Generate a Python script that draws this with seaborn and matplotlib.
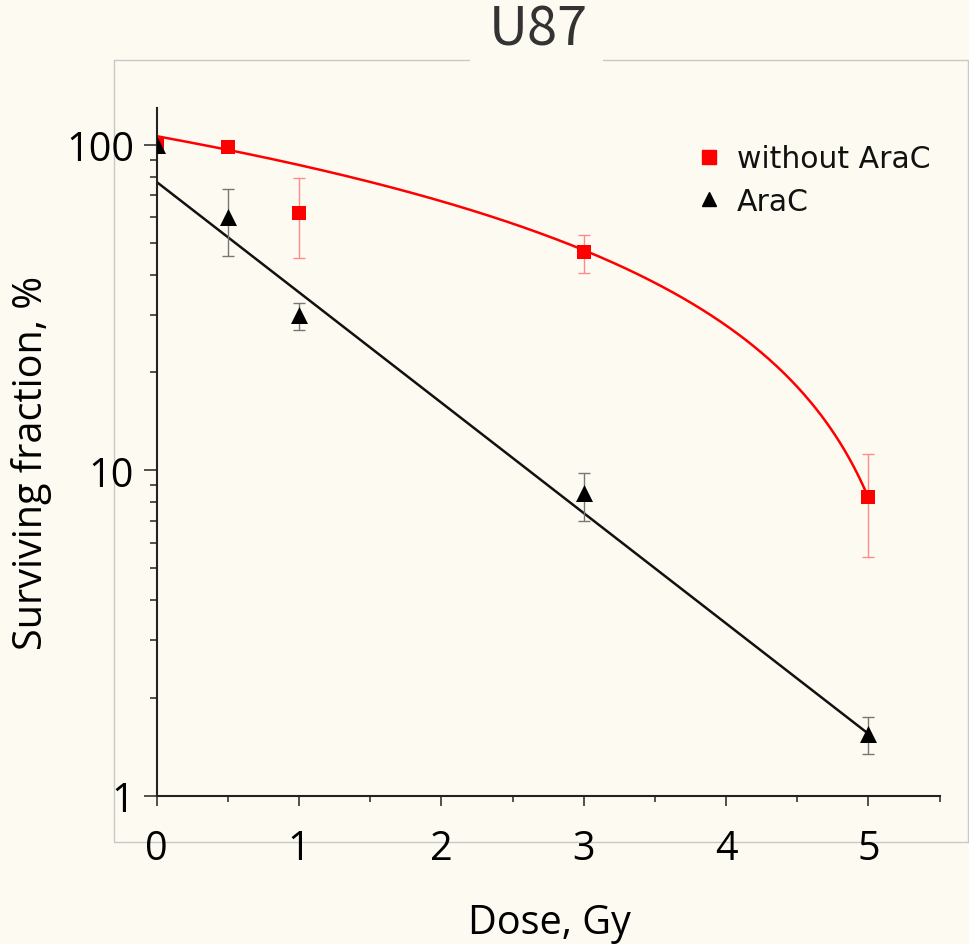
import numpy as np
import pandas as pd
import matplotlib
matplotlib.use("Agg")
import matplotlib.pyplot as plt
import seaborn as sns
from matplotlib.lines import Line2D
from matplotlib.ticker import FixedLocator, FixedFormatter, LogLocator, NullFormatter, MultipleLocator

# ---------------- data ----------------
doses = [0, 0.5, 1, 3, 5]
without_arac = [100, 98.5, 62, 47, 8.3]
without_err_lo = [0, 0, 17, 6.5, 2.9]
without_err_hi = [0, 0, 17, 6.0, 2.9]
arac = [100, 60, 30, 8.5, 1.55]
arac_err_lo = [0, 14.5, 3.0, 1.5, 0.21]
arac_err_hi = [0, 13.5, 2.7, 1.35, 0.20]

# fitted curves (parameters)
red_fit_intercept = 106.5     # linear model S = a + b*D
red_fit_slope = -19.65
black_fit_s0 = 77.0           # exponential model S = S0 * 10**(-k*D)
black_fit_k = 0.3392
fit_range = (0, 5)

y_ticks = [1, 10, 100]
y_tick_labels = ["1", "10", "100"]
x_ticks = [0, 1, 2, 3, 4, 5]

title = "U87"
xlabel = "Dose, Gy"
ylabel = "Surviving fraction, %"
legend_labels = ["without AraC", "AraC"]

# ---------------- style ----------------
BG = "#fdfaf2"
sns.set_theme(style="ticks")
plt.rcParams["font.family"] = ["Open Sans", "DejaVu Sans"]

fig = plt.figure(figsize=(9.69, 9.45), dpi=100, facecolor=BG)
W, H = 969, 945
ax = fig.add_axes([156.7 / W, 1 - 796.7 / H, (939.5 - 156.7) / W, (796.7 - 109) / H])
ax.set_facecolor(BG)

fit_x = np.linspace(fit_range[0], fit_range[1], 300)
fits = pd.DataFrame({
    "dose": np.concatenate([fit_x, fit_x]),
    "sf": np.concatenate([red_fit_intercept + red_fit_slope * fit_x,
                          black_fit_s0 * 10 ** (-black_fit_k * fit_x)]),
    "group": ["without"] * len(fit_x) + ["arac"] * len(fit_x),
})
sns.lineplot(data=fits, x="dose", y="sf", hue="group",
             palette={"without": "#ff0000", "arac": "#111111"},
             linewidth=1.8, legend=False, ax=ax, zorder=2, sort=False)

ax.errorbar(doses, without_arac, yerr=[without_err_lo, without_err_hi], fmt="none",
            ecolor="#ff8a8a", elinewidth=1.0, capsize=4.5, capthick=1.0, zorder=3)
ax.errorbar(doses, arac, yerr=[arac_err_lo, arac_err_hi], fmt="none",
            ecolor="#777777", elinewidth=1.0, capsize=4.5, capthick=1.0, zorder=3)

pts = pd.DataFrame({"dose": doses + doses, "sf": without_arac + arac,
                    "group": ["without"] * len(doses) + ["arac"] * len(doses)})
sns.scatterplot(data=pts[pts.group == "without"], x="dose", y="sf", marker="s",
                color="#ff0000", s=100, linewidth=0, ax=ax, zorder=4, legend=False)
sns.scatterplot(data=pts[pts.group == "arac"], x="dose", y="sf", marker="^",
                color="#000000", s=150, linewidth=0, ax=ax, zorder=5, legend=False)

ax.set_yscale("log")
ax.set_xlim(0, 5.5)
ax.set_ylim(1, 130)
ax.yaxis.set_major_locator(FixedLocator(y_ticks))
ax.yaxis.set_major_formatter(FixedFormatter(y_tick_labels))
ax.yaxis.set_minor_locator(LogLocator(base=10, subs=np.arange(2, 10)))
ax.yaxis.set_minor_formatter(NullFormatter())
ax.xaxis.set_major_locator(FixedLocator(x_ticks))
ax.xaxis.set_minor_locator(MultipleLocator(0.5))

for s in ["top", "right"]:
    ax.spines[s].set_visible(False)
for s in ["left", "bottom"]:
    ax.spines[s].set_linewidth(1.5)
    ax.spines[s].set_color("#222222")

ax.tick_params(axis="y", which="major", length=9.4, width=1.1, color="#222222",
               labelsize=28.5, pad=7, labelcolor="#000000")
ax.tick_params(axis="y", which="minor", length=5.2, width=1.1, color="#222222")
ax.tick_params(axis="x", which="major", length=7.2, width=1.1, color="#222222",
               labelsize=28.5, pad=16.5, labelcolor="#000000")
ax.tick_params(axis="x", which="minor", length=4.3, width=1.1, color="#222222")

ax.set_xlabel(xlabel, fontsize=28.5, color="#000000")
ax.set_ylabel(ylabel, fontsize=28.5, color="#000000")
ax.xaxis.set_label_coords(549 / W, 1 - 934.3 / H, transform=fig.transFigure)
ax.xaxis.label.set_va("baseline")
ax.yaxis.set_label_coords(41.7 / W, 1 - 463 / H, transform=fig.transFigure)
ax.yaxis.label.set_rotation_mode("anchor")
ax.yaxis.label.set_va("baseline")

# legend
handles = [Line2D([], [], marker="s", color="#ff0000", ls="none", markersize=10),
           Line2D([], [], marker="^", color="#000000", ls="none", markersize=10.5)]
fs_leg = 21.5
em = fs_leg * 100 / 72
leg = ax.legend(handles, legend_labels, loc="upper left",
                bbox_to_anchor=((709 - 0.5 * em) / W, 1 - (164 - 0.62 * em) / H),
                bbox_transform=fig.transFigure,
                frameon=False, borderpad=0, borderaxespad=0, handlelength=1.0,
                handletextpad=(737 - 709 - 0.5 * em) / em, labelspacing=(48 - 1.17 * em) / em,
                prop={"family": "DejaVu Sans", "size": fs_leg})
for t in leg.get_texts():
    t.set_color("#111111")

# outer frame with the title breaking the top edge
fc = "#c8c8c8"
L, R, T, B = 114, 968, 61, 843
for (x0, y0, x1, y1) in [(L, T, 469, T), (603, T, R, T), (L, T, L, B), (L, B, R, B), (R, T, R, B)]:
    fig.add_artist(Line2D([x0 / W, x1 / W], [1 - y0 / H, 1 - y1 / H],
                          transform=fig.transFigure, color=fc, linewidth=1.0, zorder=0))

fig.text(538.7 / W, 1 - 45.7 / H, title, ha="center", va="baseline", fontsize=39,
         color="#333333", family=["Noto Sans CJK SC", "DejaVu Sans"], fontweight=350)

fig.savefig("out.png", dpi=100, facecolor=BG)
